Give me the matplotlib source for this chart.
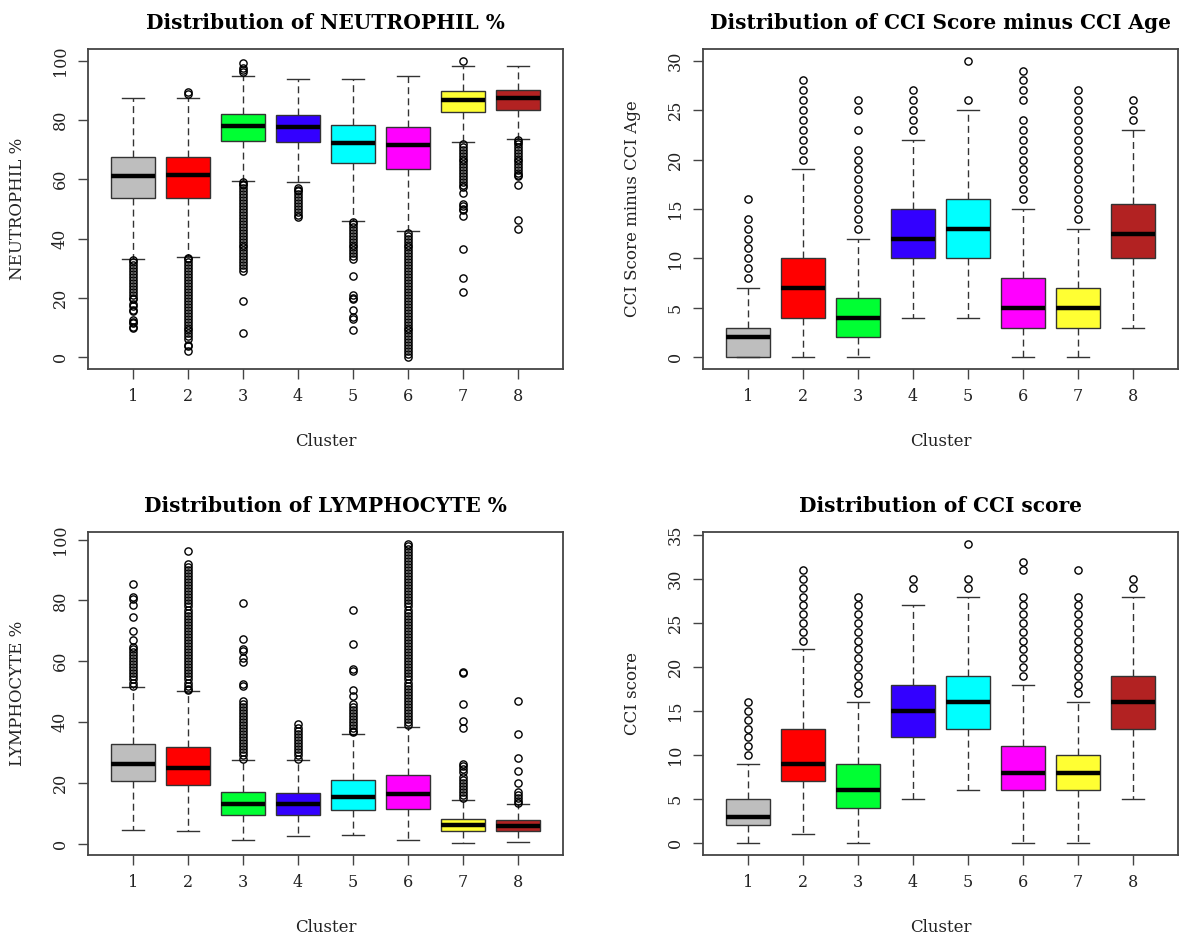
import numpy as np
import matplotlib
matplotlib.use("Agg")
import matplotlib.pyplot as plt

"""
Box plots of four variables per cluster, in the style of base R boxplot().
"""

plt.rcParams['font.family'] = ['DejaVu Serif']

CLUSTERS = [1, 2, 3, 4, 5, 6, 7, 8]
COLORS = ['#BEBEBE', '#FF0000', '#00FF33', '#3300FF',
          '#00FFFF', '#FF00FF', '#FFFF33', '#B22222']

# NEUTROPHIL %
neut_whislo = [33.1, 33.8, 59.3, 59.0, 46.0, 42.7, 72.5, 73.6]
neut_q1 = [53.6, 53.8, 72.9, 72.6, 65.4, 63.6, 82.8, 83.5]
neut_med = [61.0, 61.3, 77.9, 77.5, 72.2, 71.5, 86.9, 87.3]
neut_q3 = [67.5, 67.5, 82.1, 81.8, 78.3, 77.8, 89.8, 90.0]
neut_whishi = [87.4, 87.4, 95.0, 93.7, 93.8, 94.9, 98.2, 98.2]
neut_fliers = [
    [32.8, 32, 31, 30, 29, 28, 27, 26, 25, 24, 23, 22, 21, 20, 19.5,
     17.8, 17.3, 16, 15.5, 12.5, 12, 11.5, 10.2, 9.8],
    [89.3, 88.8, 33.5, 33, 32, 31, 30, 29, 28, 27, 26, 25, 24, 23, 22, 21,
     20, 19, 18, 17, 16, 15, 14, 13, 12, 11, 10, 9, 8, 7, 6, 4.2, 3.6, 2],
    [99.2, 97.6, 96.8, 96.3, 59, 58.5, 58, 57, 56, 55, 54, 53, 52, 51, 50,
     49, 48, 47, 46, 45, 44, 43, 42, 41, 40, 39, 38, 37, 36, 35, 34, 33,
     32, 31, 30, 29, 19.1, 8.2],
    [57, 56.5, 56, 55, 54, 53, 52, 51, 50, 49, 48, 47.2],
    [45.5, 45, 44, 43, 42, 41, 40, 39, 38, 37, 36, 35, 34, 33, 27.5, 21,
     20, 19.5, 16, 13.5, 13, 9],
    [42, 41, 40, 39, 38, 37, 36, 35, 34, 33, 32, 31, 30, 29, 28, 27, 26,
     25, 24, 23, 22, 21, 20, 19, 18, 17, 16, 15, 14, 13, 12, 11, 10, 9, 8,
     7, 6, 5, 4, 3, 2, 1, 0],
    [100, 72, 71, 70, 69, 68, 67, 66, 65, 64, 63, 62, 61, 60, 59, 58, 57.5,
     55.4, 51.8, 51, 50, 49.8, 47.5, 36.6, 26.6, 21.9],
    [73.2, 72.5, 72, 71, 70, 69, 68, 67, 66, 65, 64, 63, 62, 61.5, 61,
     58.2, 46.2, 43.3],
]

# CCI Score minus CCI Age
ccimin_whislo = [0, 0, 0, 4, 4, 0, 0, 3]
ccimin_q1 = [0, 4, 2, 10, 10, 3, 3, 10]
ccimin_med = [2, 7, 4, 12, 13, 5, 5, 12.5]
ccimin_q3 = [3, 10, 6, 15, 16, 8, 7, 15.5]
ccimin_whishi = [7, 19, 12, 22, 25, 15, 13, 23]
ccimin_fliers = [
    [8, 9, 10, 11, 12, 13, 14, 16],
    [20, 21, 22, 23, 24, 25, 26, 27, 28],
    [13, 14, 15, 16, 17, 18, 19, 20, 21, 23, 25, 26],
    [23, 24, 25, 26, 27],
    [26, 30],
    [16, 17, 18, 19, 20, 21, 22, 23, 24, 26, 27, 28, 29],
    [14, 15, 16, 17, 18, 19, 20, 21, 22, 23, 24, 25, 26, 27],
    [24, 25, 26],
]

# LYMPHOCYTE %
lymph_whislo = [4.6, 4.1, 1.1, 2.4, 2.7, 1.1, 0.2, 0.5]
lymph_q1 = [20.6, 19.4, 9.6, 9.3, 11.2, 11.5, 4.1, 4.1]
lymph_med = [26.3, 24.8, 13.1, 13.1, 15.3, 16.4, 6.0, 5.7]
lymph_q3 = [32.9, 31.7, 16.9, 16.6, 21.1, 22.5, 8.2, 7.7]
lymph_whishi = [51.5, 50.2, 27.6, 27.6, 36.1, 38.3, 14.5, 13.1]
lymph_fliers = [
    [52, 53, 54, 55, 56, 57, 58, 59, 60, 61, 62, 63, 64, 64.6, 67.1, 69.9,
     74.5, 78.5, 80.5, 81.1, 85.4],
    [50.5, 51, 52, 53, 54, 55, 56, 57, 58, 59, 60, 61, 62, 63, 64, 65, 66,
     67, 68, 69, 70, 71, 72, 73, 74, 75, 76, 77, 78, 79, 80, 81, 82, 83,
     84, 85, 86, 87, 88, 89, 90, 91, 92, 96.2],
    [28, 29, 30, 31, 32, 33, 34, 35, 36, 37, 38, 39, 40, 41, 42, 43, 44,
     45, 46, 47, 52, 52.6, 59.7, 61, 63.5, 64, 67.4, 79],
    [28, 29, 30, 31, 32, 33, 34, 35, 36, 37, 38, 39.2],
    [36.6, 37, 38, 39, 40, 41, 42, 43, 44, 45, 46, 48.7, 50.6, 56.8, 57.3,
     65.7, 76.9],
    [39, 40, 41, 42, 43, 44, 45, 46, 47, 48, 49, 50, 51, 52, 53, 54, 55,
     56, 57, 58, 59, 60, 61, 62, 63, 64, 65, 66, 67, 68, 69, 70, 71, 72,
     73, 74, 75, 76, 77, 78, 79, 80, 81, 82, 83, 84, 85, 86, 87, 88, 89,
     90, 91, 92, 93, 94, 95, 96, 97, 98, 98.6],
    [15, 16, 17, 18, 19, 20, 21, 22, 23.5, 24.5, 25.5, 26.3, 38.1, 40.3,
     46, 56, 56.5],
    [13.5, 14, 15, 16, 17, 20, 23.9, 28.3, 36.1, 46.8],
]

# CCI score
cci_whislo = [0, 1, 0, 5, 6, 0, 0, 5]
cci_q1 = [2, 7, 4, 12, 13, 6, 6, 13]
cci_med = [3, 9, 6, 15, 16, 8, 8, 16]
cci_q3 = [5, 13, 9, 18, 19, 11, 10, 19]
cci_whishi = [9, 22, 16, 27, 28, 18, 16, 28]
cci_fliers = [
    [10, 11, 12, 13, 14, 15, 16],
    [23, 24, 25, 26, 27, 28, 29, 30, 31],
    [17, 18, 19, 20, 21, 22, 23, 24, 25, 26, 27, 28],
    [29, 30],
    [29, 30, 34],
    [19, 20, 21, 22, 23, 24, 25, 26, 27, 28, 31, 32],
    [17, 18, 19, 20, 21, 22, 23, 24, 25, 26, 27, 28, 31],
    [29, 30],
]


def make_stats(whislo, q1, med, q3, whishi, fliers):
    """
    Build the list of dicts that ax.bxp wants.
    """
    stats = []
    for i in range(len(med)):
        stats.append({'whislo': whislo[i], 'q1': q1[i], 'med': med[i],
                      'q3': q3[i], 'whishi': whishi[i],
                      'fliers': np.array(fliers[i])})
    return stats


def draw_panel(rect, stats, title, ylabel, ylim, yticks):
    """
    Draw one R-style boxplot panel.
    """
    ax = fig.add_axes(rect)
    bp = ax.bxp(stats, positions=CLUSTERS, widths=0.8, patch_artist=True,
                boxprops=dict(edgecolor='#333333', linewidth=1.0),
                medianprops=dict(color='black', linewidth=3.2),
                whiskerprops=dict(color='#333333', linewidth=1.0,
                                  linestyle=(0, (5, 3))),
                capprops=dict(color='#333333', linewidth=1.0),
                flierprops=dict(marker='o', markerfacecolor='none',
                                markeredgecolor='black', markersize=5.2,
                                markeredgewidth=1.0, linestyle='none'))
    for patch, col in zip(bp['boxes'], COLORS):
        patch.set_facecolor(col)

    ax.set_xlim(0.18, 8.82)
    ax.set_ylim(*ylim)
    ax.set_xticks(CLUSTERS)
    ax.set_xticklabels([str(c) for c in CLUSTERS])
    ax.set_yticks(yticks)
    ax.set_yticklabels([str(t) for t in yticks], rotation=90, va='center')
    ax.tick_params(axis='both', length=7, width=1.0, color='#444444',
                   labelsize=11.5, labelcolor='#222222', pad=7)
    for sp in ax.spines.values():
        sp.set_color('#444444')
        sp.set_linewidth(1.3)

    ax.set_title(title, fontsize=14.5, fontweight='bold', pad=14)
    ax.set_xlabel('Cluster', fontsize=12, color='#222222', va='center')
    ax.xaxis.set_label_coords(0.5, -0.225)
    ax.set_ylabel(ylabel, fontsize=12, color='#222222', va='center')
    ax.yaxis.set_label_coords(-0.149, 0.5)
    return ax


fig = plt.figure(figsize=(11.8, 9.39), dpi=100)

draw_panel([0.0746, 0.607, 0.4025, 0.341],
           make_stats(neut_whislo, neut_q1, neut_med, neut_q3, neut_whishi,
                      neut_fliers),
           'Distribution of NEUTROPHIL %', 'NEUTROPHIL %',
           (-4, 104), [0, 20, 40, 60, 80, 100])

draw_panel([0.5958, 0.607, 0.4025, 0.341],
           make_stats(ccimin_whislo, ccimin_q1, ccimin_med, ccimin_q3,
                      ccimin_whishi, ccimin_fliers),
           'Distribution of CCI Score minus CCI Age', 'CCI Score minus CCI Age',
           (-1.2, 31.2), [0, 5, 10, 15, 20, 25, 30])

draw_panel([0.0746, 0.0895, 0.4025, 0.344],
           make_stats(lymph_whislo, lymph_q1, lymph_med, lymph_q3,
                      lymph_whishi, lymph_fliers),
           'Distribution of LYMPHOCYTE %', 'LYMPHOCYTE %',
           (-3.7, 102.5), [0, 20, 40, 60, 80, 100])

draw_panel([0.5958, 0.0895, 0.4025, 0.344],
           make_stats(cci_whislo, cci_q1, cci_med, cci_q3, cci_whishi,
                      cci_fliers),
           'Distribution of CCI score', 'CCI score',
           (-1.36, 35.36), [0, 5, 10, 15, 20, 25, 30, 35])

fig.savefig('out.png', dpi=100)
